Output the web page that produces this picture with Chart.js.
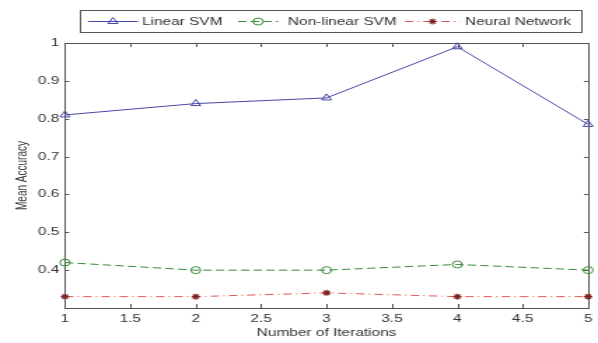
<!DOCTYPE html>
<html>
<head>
<meta charset="utf-8">
<script src="https://cdn.jsdelivr.net/npm/chart.js@4/dist/chart.umd.min.js"></script>
<style>
html,body{margin:0;padding:0;background:#fff;overflow:hidden;}
#wrap{width:427px;height:343px;transform:scaleX(1.4005);transform-origin:0 0;}
canvas{filter:blur(0.4px);}
</style>
</head>
<body>
<div id="wrap"><canvas id="c"></canvas></div>
<script>
const iterations = [1, 2, 3, 4, 5];
const linearSVM = [0.81, 0.84, 0.855, 0.99, 0.785];
const nonLinearSVM = [0.42, 0.40, 0.40, 0.415, 0.40];
const neuralNetwork = [0.33, 0.33, 0.34, 0.33, 0.33];
const seriesNames = ['Linear SVM', 'Non-linear SVM', 'Neural Network'];
const xTicks = [1, 1.5, 2, 2.5, 3, 3.5, 4, 4.5, 5];
const yTicks = [0.3, 0.4, 0.5, 0.6, 0.7, 0.8, 0.9, 1];

const FONT = 'Liberation Sans, Arial, sans-serif';
const AXIS = '#555';
const TXT = '#333';

const toXY = arr => arr.map((v, i) => ({x: iterations[i], y: v}));

const datasets = [
  {label: seriesNames[0], data: toXY(linearSVM), borderColor: '#4848a8', backgroundColor: 'rgba(0,0,0,0)',
   borderWidth: 1, pointStyle: 'triangle', pointRadius: 4, pointBorderColor: '#4848a8', pointBorderWidth: 1,
   borderDash: [], clip: false, tension: 0},
  {label: seriesNames[1], data: toXY(nonLinearSVM), borderColor: '#3a8a3a', backgroundColor: 'rgba(0,0,0,0)',
   borderWidth: 1, pointStyle: 'circle', pointRadius: 3.5, pointBorderColor: '#3a8a3a', pointBorderWidth: 1,
   borderDash: [6, 3], clip: false, tension: 0},
  {label: seriesNames[2], data: toXY(neuralNetwork), borderColor: '#e05555', backgroundColor: '#802020',
   borderWidth: 1, pointStyle: 'star', pointRadius: 3, pointBorderColor: '#802020', pointBorderWidth: 1.2,
   borderDash: [6, 3, 1, 3], clip: false, tension: 0}
];

const boxPlugin = {
  id: 'box',
  beforeDatasetsDraw(chart) {
    const {ctx, chartArea: a, scales: {x, y}} = chart;
    ctx.save();
    ctx.strokeStyle = AXIS;
    ctx.lineWidth = 1;
    ctx.strokeRect(Math.round(a.left) + 0.5, Math.round(a.top) + 0.5, Math.round(a.right - a.left), Math.round(a.bottom - a.top));
    ctx.beginPath();
    xTicks.forEach(v => {
      const px = Math.round(x.getPixelForValue(v)) + 0.5;
      ctx.moveTo(px, a.bottom); ctx.lineTo(px, a.bottom - 4);
      ctx.moveTo(px, a.top); ctx.lineTo(px, a.top + 4);
    });
    yTicks.forEach(v => {
      const py = Math.round(y.getPixelForValue(v)) + 0.5;
      ctx.moveTo(a.left, py); ctx.lineTo(a.left + 3, py);
      ctx.moveTo(a.right, py); ctx.lineTo(a.right - 3, py);
    });
    ctx.stroke();
    ctx.restore();
  },
  afterDraw(chart) {
    const {ctx} = chart;
    const ds = chart.data.datasets;
    ctx.save();
    const L = 57.5, R = 415.5, T = 10.5, B = 32.5;
    ctx.fillStyle = '#fff';
    ctx.fillRect(L, T, R - L, B - T);
    ctx.strokeStyle = AXIS;
    ctx.lineWidth = 1;
    ctx.strokeRect(L, T, R - L, B - T);
    const cy = 21;
    const items = [
      {x0: 62.8, x1: 98.5, tx: 101.4},
      {x0: 170, x1: 198.5, tx: 205.6},
      {x0: 289.2, x1: 328.5, tx: 332}
    ];
    items.forEach((it, i) => {
      const d = ds[i];
      ctx.save();
      ctx.strokeStyle = d.borderColor;
      ctx.lineWidth = d.borderWidth;
      ctx.setLineDash(d.borderDash);
      ctx.beginPath();
      ctx.moveTo(it.x0, cy + 0.5); ctx.lineTo(it.x1, cy + 0.5);
      ctx.stroke();
      ctx.restore();
      ctx.save();
      ctx.strokeStyle = d.pointBorderColor;
      ctx.fillStyle = d.backgroundColor;
      ctx.lineWidth = d.pointBorderWidth;
      ctx.setLineDash([]);
      Chart.helpers.drawPoint(ctx, {
        pointStyle: d.pointStyle, radius: d.pointRadius, rotation: 0, borderWidth: d.pointBorderWidth
      }, (it.x0 + it.x1) / 2, cy + 0.5);
      ctx.restore();
      ctx.fillStyle = TXT;
      ctx.font = '11px ' + FONT;
      ctx.textBaseline = 'middle';
      ctx.textAlign = 'left';
      ctx.fillText(d.label, it.tx, cy + 1);
    });
    ctx.restore();
  }
};

new Chart(document.getElementById('c'), {
  type: 'line',
  data: {datasets},
  options: {
    responsive: true,
    maintainAspectRatio: false,
    animation: false,
    layout: {padding: {top: 43, right: 5, left: 0, bottom: 0}},
    plugins: {legend: {display: false}, tooltip: {enabled: false}},
    scales: {
      x: {
        type: 'linear', min: 1, max: 5,
        afterBuildTicks: s => { s.ticks = xTicks.map(v => ({value: v})); },
        afterFit: s => { s.height = 35; },
        grid: {display: false, drawTicks: false}, border: {display: false},
        ticks: {color: TXT, font: {family: FONT, size: 11}, padding: 4, maxRotation: 0,
                callback: v => String(v)},
        title: {display: true, text: 'Number of Iterations', color: TXT, font: {family: FONT, size: 11}, padding: {top: 0, bottom: 3}}
      },
      y: {
        type: 'linear', min: 0.3, max: 1,
        afterBuildTicks: s => { s.ticks = yTicks.map(v => ({value: v})); },
        afterFit: s => { s.width = 46.4; },
        grid: {display: false, drawTicks: false}, border: {display: false},
        ticks: {color: TXT, font: {family: FONT, size: 11}, padding: 4,
                callback: v => Math.abs(v - 0.3) < 1e-6 ? '' : String(+v.toFixed(1))},
        title: {display: true, text: 'Mean Accuracy', color: TXT, font: {family: FONT, size: 10}, padding: {top: 10, bottom: 0}}
      }
    }
  },
  plugins: [boxPlugin]
});
</script>
</body>
</html>
